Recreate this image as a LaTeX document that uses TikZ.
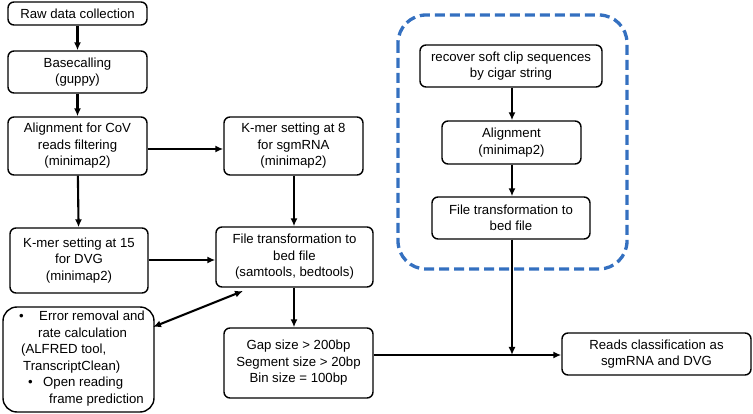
\documentclass[tikz,border=0pt]{standalone}
\usepackage{fontspec}
\setmainfont{Liberation Sans}
\usetikzlibrary{arrows.meta}
\definecolor{dashblue}{RGB}{52,112,192}
\begin{document}
\begin{tikzpicture}[x=1pt,y=-1pt,
  box/.style={draw,rounded corners=6pt,line width=1.4pt,align=center,font=\fontsize{13.2}{16.5}\selectfont,inner sep=0pt},
  arr/.style={line width=2.1pt,-{Latex[length=8pt,width=7pt]}},
  darr/.style={line width=2.1pt,{Latex[length=8pt,width=7pt]}-{Latex[length=8pt,width=7pt]}}]
\useasboundingbox (0,0) rectangle (753,414);
% boxes defined by corners
\newcommand{\mybox}[6]{\node[box,minimum width=#3-#1,minimum height=#4-#2] (#5) at ({(#1+#3)/2},{(#2+#4)/2}) {#6};}
\mybox{8}{2}{147}{25}{raw}{Raw data collection}
\mybox{8}{51}{147}{93}{base}{Basecalling\\(guppy)}
\mybox{8}{117}{147}{175}{align}{Alignment for CoV\\reads filtering\\(minimap2)}
\mybox{224}{117}{363}{175}{k8}{K-mer setting at 8\\for sgmRNA\\(minimap2)}
\mybox{10}{228}{148}{293}{k15}{K-mer setting at 15\\for DVG\\(minimap2)}
\mybox{216}{227}{373}{287}{ft}{File transformation to\\bed file\\(samtools, bedtools)}
\node[box,minimum width=151,minimum height=105,rounded corners=14pt] (err) at (78.5,359.5) {};
\node[font=\fontsize{13.2}{16.5}\selectfont,align=left,anchor=north west,inner sep=0pt] (errtxt) at (19,311) {%
\makebox[14pt][l]{•}\hspace{6pt}Error removal and\\
\hspace{19pt}rate calculation\\
\hspace{2pt}(ALFRED tool,\\
\hspace{4pt}TranscriptClean)\\
\makebox[14pt][l]{\hspace{9pt}•}\hspace{10pt}Open reading\\
\hspace{30pt}frame prediction};
\mybox{224}{328}{373}{398}{gap}{Gap size > 200bp\\Segment size > 20bp\\Bin size = 100bp}
\mybox{420}{45}{602}{87}{soft}{recover soft clip sequences\\by cigar string}
\mybox{442}{121}{581}{164}{align2}{Alignment\\(minimap2)}
\mybox{432}{197}{590}{239}{ft2}{File transformation to\\bed file}
\mybox{562}{333}{751}{375}{reads}{Reads classification as\\sgmRNA and DVG}
\draw[dashblue,line width=3.3pt,dash pattern=on 10pt off 5pt,rounded corners=28pt] (398,15) rectangle (627,269);
% connectors
\draw[arr] (raw) -- (base);
\draw[arr] (base) -- (align);
\draw[arr] (align.east |- 0,149) -- (k8.west |- 0,149);
\draw[arr] (align) -- (k15);
\draw[arr] (k8.south -| 294,0) -- (ft.north -| 294,0);
\draw[arr] (k15.east |- 0,260) -- (ft.west |- 0,260);
\coordinate (dA) at (153,327);
\coordinate (dB) at (243,291);
\draw[darr] (dA) -- (dB);
\draw[arr] (ft.south -| 294,0) -- (gap.north -| 294,0);
\draw[arr] (soft.south -| 512,0) -- (align2.north -| 512,0);
\draw[arr] (align2.south -| 512,0) -- (ft2.north -| 512,0);
\coordinate (merge) at (512,355);
\draw[arr] (gap.east |- merge) -- (reads.west |- merge);
\draw[arr] (ft2.south -| merge) -- (merge);
\end{tikzpicture}
\end{document}
